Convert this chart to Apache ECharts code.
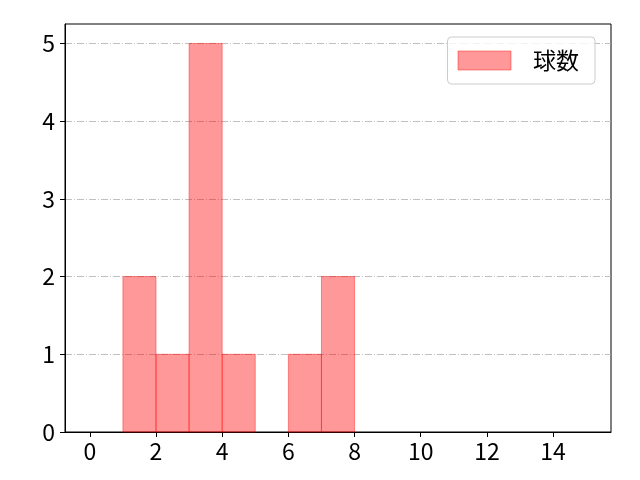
<!DOCTYPE html>
<html><head><meta charset="utf-8">
<script src="https://cdn.jsdelivr.net/npm/echarts@6/dist/echarts.min.js"></script>
<style>html,body{margin:0;padding:0;background:#fff}#c{width:640px;height:480px}</style>
</head><body><div id="c"></div>
<script>
const binStarts = [0,1,2,3,4,5,6,7,8,9,10,11,12,13,14];
const counts    = [0,2,1,5,1,0,1,2,0,0,0,0,0,0,0];
const binWidth = 1;
const xTicks = [0,2,4,6,8,10,12,14];
const yTicks = [0,1,2,3,4,5];
const seriesName = '球数';

const data = binStarts.map((s,i)=>[s, s+binWidth, counts[i]]).filter(d=>d[2]>0);
const font = '"Noto Sans CJK JP", "DejaVu Sans", sans-serif';
const chart = echarts.init(document.getElementById('c'), null, {renderer:'canvas'});
chart.setOption({
  animation:false,
  backgroundColor:'#fff',
  grid:{left:65,right:29,top:24,bottom:48,show:true,borderColor:'#000',borderWidth:1,backgroundColor:'transparent'},
  legend:{
    data:[{name:seriesName,icon:'rect',itemStyle:{color:'rgba(255,0,0,0.4)',borderColor:'rgba(255,0,0,0.4)',borderWidth:1}}],
    right:45, top:37, itemWidth:53, itemHeight:19, itemGap:10,
    padding:[12,16,12,10],
    borderColor:'#cccccc', borderWidth:1, borderRadius:4, backgroundColor:'rgba(255,255,255,0.8)',
    textStyle:{fontFamily:font,fontSize:23,lineHeight:22,color:'#000',padding:[0,0,0,17]}
  },
  xAxis:{type:'value',min:-0.75,max:15.75,
    axisLine:{show:true,onZero:false,lineStyle:{color:'#000',width:1}},
    axisTick:{show:true,length:5,customValues:xTicks,lineStyle:{color:'#000'}},
    axisLabel:{customValues:xTicks,margin:8,fontFamily:font,fontSize:23,color:'#000'},
    splitLine:{show:false}},
  yAxis:{type:'value',min:0,max:5.25,
    axisLine:{show:true,onZero:false,lineStyle:{color:'#000',width:1}},
    axisTick:{show:true,length:5,customValues:yTicks,lineStyle:{color:'#000'}},
    axisLabel:{customValues:yTicks,margin:10,fontFamily:font,fontSize:23,color:'#000'},
    splitLine:{show:true,lineStyle:{color:'#b0b0b0',width:0.8,type:[7,2,1,2]}}},
  series:[{
    name:seriesName,type:'custom',
    data:data,
    encode:{x:[0,1],y:2},
    renderItem:function(params,api){
      const p0 = api.coord([api.value(0), api.value(2)]);
      const p1 = api.coord([api.value(1), 0]);
      return {type:'rect',shape:{x:p0[0],y:p0[1],width:p1[0]-p0[0],height:p1[1]-p0[1]},
        style:{fill:'rgba(255,0,0,0.4)',stroke:'rgba(255,0,0,0.4)',lineWidth:1}};
    },
    itemStyle:{color:'rgba(255,0,0,0.4)'}
  }]
});
</script></body></html>
